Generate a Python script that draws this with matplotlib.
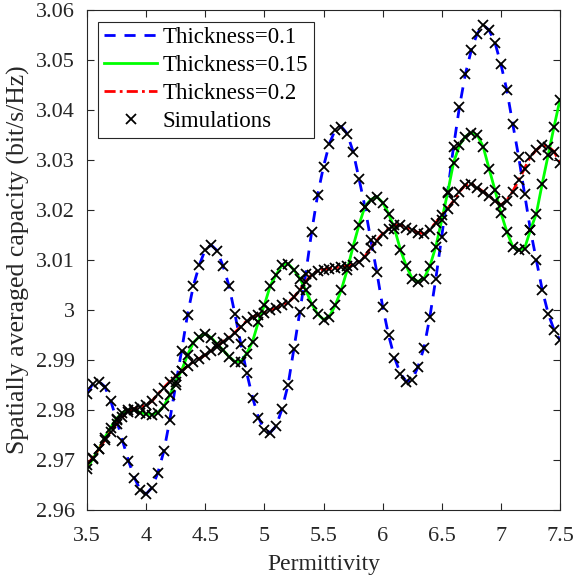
import numpy as np
import matplotlib
matplotlib.use("Agg")
import matplotlib.pyplot as plt
from matplotlib.ticker import FixedLocator, FixedFormatter

permittivity = [3.50, 3.55, 3.60, 3.65, 3.70, 3.75, 3.80, 3.85, 3.90, 3.95,
                4.00, 4.05, 4.10, 4.15, 4.20, 4.25, 4.30, 4.35, 4.40, 4.45,
                4.50, 4.55, 4.60, 4.65, 4.70, 4.75, 4.80, 4.85, 4.90, 4.95,
                5.00, 5.05, 5.10, 5.15, 5.20, 5.25, 5.30, 5.35, 5.40, 5.45,
                5.50, 5.55, 5.60, 5.65, 5.70, 5.75, 5.80, 5.85, 5.90, 5.95,
                6.00, 6.05, 6.10, 6.15, 6.20, 6.25, 6.30, 6.35, 6.40, 6.45,
                6.50, 6.55, 6.60, 6.65, 6.70, 6.75, 6.80, 6.85, 6.90, 6.95,
                7.00, 7.05, 7.10, 7.15, 7.20, 7.25, 7.30, 7.35, 7.40, 7.45,
                7.50]

thick_01 = [2.9833, 2.9853, 2.9857, 2.9847, 2.9819, 2.9780, 2.9739, 2.9699, 2.9665, 2.9640,
            2.9632, 2.9645, 2.9675, 2.9718, 2.9780, 2.9850, 2.9919, 2.9991, 3.0049, 3.0090,
            3.0121, 3.0130, 3.0119, 3.0088, 3.0049, 2.9993, 2.9933, 2.9875, 2.9825, 2.9785,
            2.9760, 2.9755, 2.9768, 2.9803, 2.9850, 2.9923, 2.9997, 3.0073, 3.0157, 3.0230,
            3.0287, 3.0333, 3.0361, 3.0367, 3.0353, 3.0317, 3.0263, 3.0207, 3.0140, 3.0077,
            3.0007, 2.9950, 2.9905, 2.9873, 2.9857, 2.9860, 2.9887, 2.9925, 2.9987, 3.0063,
            3.0147, 3.0237, 3.0327, 3.0407, 3.0472, 3.0520, 3.0553, 3.0570, 3.0560, 3.0535,
            3.0492, 3.0440, 3.0373, 3.0307, 3.0233, 3.0160, 3.0100, 3.0040, 2.9993, 2.9960,
            2.9940]

thick_015 = [2.9683, 2.9703, 2.9722, 2.9745, 2.9765, 2.9783, 2.9795, 2.9800, 2.9800, 2.9795,
             2.9792, 2.9791, 2.9795, 2.9808, 2.9830, 2.9857, 2.9879, 2.9910, 2.9935, 2.9947,
             2.9952, 2.9945, 2.9932, 2.9920, 2.9907, 2.9897, 2.9897, 2.9913, 2.9937, 2.9977,
             3.0010, 3.0049, 3.0071, 3.0090, 3.0093, 3.0080, 3.0063, 3.0040, 3.0012, 2.9992,
             2.9981, 2.9987, 3.0010, 3.0040, 3.0080, 3.0127, 3.0170, 3.0207, 3.0221, 3.0227,
             3.0215, 3.0193, 3.0163, 3.0121, 3.0088, 3.0063, 3.0057, 3.0063, 3.0088, 3.0127,
             3.0180, 3.0235, 3.0295, 3.0330, 3.0347, 3.0355, 3.0350, 3.0327, 3.0283, 3.0240,
             3.0195, 3.0157, 3.0127, 3.0120, 3.0123, 3.0160, 3.0193, 3.0253, 3.0310, 3.0367,
             3.0421]

thick_02 = [2.9690, 2.9705, 2.9722, 2.9740, 2.9757, 2.9772, 2.9786, 2.9797, 2.9803, 2.9806,
            2.9810, 2.9818, 2.9832, 2.9845, 2.9857, 2.9868, 2.9878, 2.9888, 2.9897, 2.9903,
            2.9910, 2.9918, 2.9927, 2.9937, 2.9945, 2.9955, 2.9967, 2.9978, 2.9986, 2.9991,
            2.9995, 3.0000, 3.0004, 3.0010, 3.0015, 3.0026, 3.0040, 3.0057, 3.0071, 3.0078,
            3.0081, 3.0083, 3.0085, 3.0086, 3.0088, 3.0090, 3.0097, 3.0107, 3.0125, 3.0139,
            3.0153, 3.0163, 3.0170, 3.0170, 3.0165, 3.0160, 3.0155, 3.0153, 3.0161, 3.0175,
            3.0190, 3.0203, 3.0218, 3.0237, 3.0250, 3.0253, 3.0245, 3.0237, 3.0228, 3.0219,
            3.0210, 3.0219, 3.0237, 3.0260, 3.0283, 3.0307, 3.0320, 3.0330, 3.0327, 3.0317,
            3.0295]

series_labels = ["Thickness=0.1", "Thickness=0.15", "Thickness=0.2"]
sim_label = "Simulations"
x_ticks = [3.5, 4, 4.5, 5, 5.5, 6, 6.5, 7, 7.5]
x_tick_labels = ["3.5", "4", "4.5", "5", "5.5", "6", "6.5", "7", "7.5"]
y_ticks = [2.96, 2.97, 2.98, 2.99, 3.00, 3.01, 3.02, 3.03, 3.04, 3.05, 3.06]
y_tick_labels = ["2.96", "2.97", "2.98", "2.99", "3", "3.01", "3.02", "3.03", "3.04", "3.05", "3.06"]

plt.rcParams['font.family'] = ['Liberation Serif', 'DejaVu Serif']

fig = plt.figure(figsize=(5.74, 5.82), dpi=100)
ax = fig.add_axes([0.1516, 0.1237, 0.8240, 0.8590])

axis_col = '#262626'
l1, = ax.plot(permittivity, thick_01, linestyle=(0, (4, 3.2)), color='#0000ff', lw=2.0, label=series_labels[0])
l2, = ax.plot(permittivity, thick_015, linestyle='-', color='#00ff00', lw=2.0, label=series_labels[1])
l3, = ax.plot(permittivity, thick_02, linestyle=(0, (4, 1.5, 1, 1.5)), color='#ff0000', lw=2.0, label=series_labels[2])
ms = 6.8
m1, = ax.plot(permittivity, thick_01, 'x', color='black', ms=ms, mew=1.3, label=sim_label)
ax.plot(permittivity, thick_015, 'x', color='black', ms=ms, mew=1.3)
ax.plot(permittivity, thick_02, 'x', color='black', ms=ms, mew=1.3)

ax.set_xlim(3.5, 7.5)
ax.set_ylim(2.96, 3.06)
ax.xaxis.set_major_locator(FixedLocator(x_ticks))
ax.xaxis.set_major_formatter(FixedFormatter(x_tick_labels))
ax.yaxis.set_major_locator(FixedLocator(y_ticks))
ax.yaxis.set_major_formatter(FixedFormatter(y_tick_labels))
ax.tick_params(direction='in', top=True, right=True, length=5, width=0.8,
               color=axis_col, labelcolor=axis_col, labelsize=16)
ax.tick_params(axis='x', pad=12)
ax.tick_params(axis='y', pad=9)
for sp in ax.spines.values():
    sp.set_color(axis_col)
    sp.set_linewidth(0.8)

ax.set_xlabel("Permittivity", fontsize=17, color=axis_col, labelpad=6)
ax.set_ylabel("Spatially averaged capacity (bit/s/Hz)", fontsize=18.5, color=axis_col, labelpad=4)

leg = ax.legend(handles=[l1, l2, l3, m1], loc='upper left', fontsize=16.5,
                frameon=True, fancybox=False, framealpha=1, edgecolor=axis_col,
                handlelength=2.3, handletextpad=0.25, borderpad=0.25, labelspacing=0.3,
                borderaxespad=0.5)
leg.get_frame().set_linewidth(0.8)

fig.savefig("out.png", dpi=100)
